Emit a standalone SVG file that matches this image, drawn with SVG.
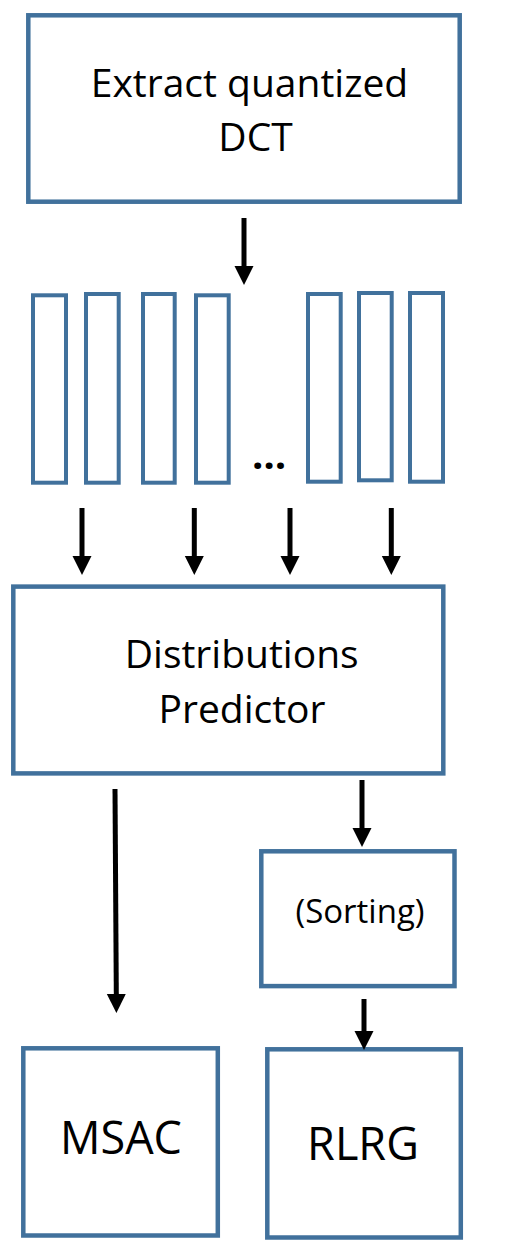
<svg xmlns="http://www.w3.org/2000/svg" width="505" height="1257" viewBox="0 0 505 1257">
<style>
.box{fill:#fff;stroke:#41719C;stroke-width:4.5}
.bar{fill:#fff;stroke:#41719C;stroke-width:4}
.t{font-family:"Open Sans","Liberation Sans",sans-serif;fill:#000;text-anchor:middle}
.c{stroke:#000;stroke-width:5;fill:none;marker-end:url(#ah)}
</style>
<defs>
<marker id="ah" markerUnits="userSpaceOnUse" markerWidth="20" markerHeight="20" viewBox="0 -10 20 20" refX="0" refY="0" orient="auto">
<path d="M0,-9.5 L19,0 L0,9.5 z" fill="#000"/>
</marker>
</defs>
<rect width="505" height="1257" fill="#fff"/>
<g id="extract">
<rect class="box" x="28.3" y="15.3" width="431.4" height="186.4"/>
<text class="t" font-size="39" x="249.5" y="97">Extract quantized</text>
<text class="t" font-size="39" x="255.5" y="150.5">DCT</text>
</g>
<g id="bars">
<rect class="bar" x="33" y="295.3" width="33" height="187.4"/>
<rect class="bar" x="86" y="294" width="32.7" height="188.7"/>
<rect class="bar" x="143" y="294" width="31.7" height="188.7"/>
<rect class="bar" x="196" y="295.3" width="32.7" height="187.4"/>
<rect class="bar" x="308" y="294" width="32.7" height="187.7"/>
<rect class="bar" x="359" y="293" width="32.7" height="187.3"/>
<rect class="bar" x="410" y="293" width="33" height="188.7"/>
<text class="t" font-size="40" font-weight="700" x="269" y="469">…</text>
</g>
<g id="predictor">
<rect class="box" x="13.3" y="586.6" width="430" height="186.8"/>
<text class="t" font-size="39" x="241.7" y="668.3">Distributions</text>
<text class="t" font-size="39" x="242" y="722.7">Predictor</text>
</g>
<g id="sorting">
<rect class="box" x="261.3" y="851.3" width="193.2" height="134.8"/>
<text class="t" font-size="33" x="360" y="923.3">(Sorting)</text>
</g>
<g id="msac">
<rect class="box" x="23.3" y="1048.3" width="194.5" height="187.2"/>
<text class="t" font-size="45" x="121" y="1154.3">MSAC</text>
</g>
<g id="rlrg">
<rect class="box" x="267.3" y="1049.3" width="193.5" height="188.2"/>
<text class="t" font-size="45" x="363" y="1160">RLRG</text>
</g>
<g id="connectors">
<line class="c" x1="244" y1="218" x2="244" y2="266"/>
<line class="c" x1="82" y1="508" x2="82" y2="556"/>
<line class="c" x1="194.3" y1="508" x2="194.3" y2="556"/>
<line class="c" x1="290" y1="508" x2="290" y2="556"/>
<line class="c" x1="391.3" y1="508" x2="391.3" y2="556"/>
<line class="c" x1="115" y1="789" x2="116.3" y2="994"/>
<line class="c" x1="362" y1="780" x2="362" y2="828"/>
<line class="c" x1="364" y1="999" x2="364" y2="1031"/>
</g>
</svg>
